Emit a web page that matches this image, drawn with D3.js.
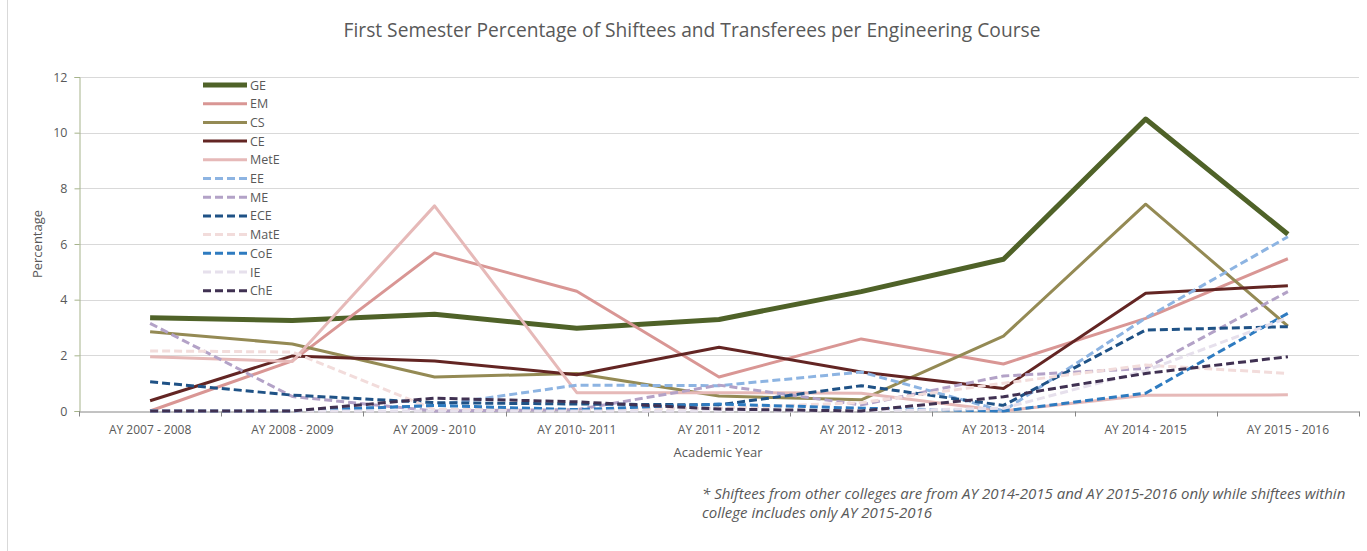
<!DOCTYPE html>
<html>
<head>
    <meta charset="utf-8" />
    <title>Shiftees and Transferees</title>
    <script src="https://cdn.jsdelivr.net/npm/d3@7"></script>
    <style>
        body { margin: 0; background: #fff; }
        text { font-family: "Open Sans", "Liberation Sans", Arial, sans-serif; fill: #595959; }
    </style>
</head>
<body>
    <script>
        var years = ["AY 2007 - 2008", "AY 2008 - 2009", "AY 2009 - 2010", "AY 2010- 2011", "AY 2011 - 2012",
            "AY 2012 - 2013", "AY 2013 - 2014", "AY 2014 - 2015", "AY 2015 - 2016"];
        var yTicks = [0, 2, 4, 6, 8, 10, 12];

        var GE = [3.35, 3.25, 3.48, 2.97, 3.29, 4.29, 5.45, 10.49, 6.35];
        var EM = [0, 1.8, 5.68, 4.3, 1.22, 2.59, 1.69, 3.33, 5.47];
        var CS = [2.85, 2.41, 1.22, 1.35, 0.54, 0.40, 2.69, 7.43, 3.05];
        var CE = [0.37, 1.98, 1.80, 1.30, 2.29, 1.40, 0.81, 4.23, 4.50];
        var MetE = [1.95, 1.78, 7.37, 0.66, 0.66, 0.64, 0, 0.57, 0.58];
        var EE = [0, 0, 0.2, 0.93, 0.91, 1.4, 0, 3.34, 6.26];
        var ME = [3.15, 0.52, 0, 0.05, 0.93, 0.22, 1.26, 1.53, 4.29];
        var ECE = [1.05, 0.57, 0.3, 0.25, 0.22, 0.91, 0.2, 2.91, 3.03];
        var MatE = [2.16, 2.12, 0.05, 0.05, 0.1, 0.3, 1.0, 1.65, 1.35];
        var CoE = [0, 0, 0.2, 0.05, 0.25, 0.1, 0, 0.64, 3.51];
        var IE = [0, 0, 0, 0, 0, 0, 0.1, 1.45, 3.35];
        var ChE = [0, 0, 0.46, 0.33, 0.07, 0, 0.51, 1.35, 1.95];

        var series = [
            { name: "GE", values: GE, color: "#4F6228", width: 5, dash: null },
            { name: "EM", values: EM, color: "#D99694", width: 3, dash: null },
            { name: "CS", values: CS, color: "#948A54", width: 3, dash: null },
            { name: "CE", values: CE, color: "#632523", width: 3, dash: null },
            { name: "MetE", values: MetE, color: "#E6B9B8", width: 3, dash: null },
            { name: "EE", values: EE, color: "#8DB4E2", width: 3, dash: "8,4" },
            { name: "ME", values: ME, color: "#B3A2C7", width: 3, dash: "8,4" },
            { name: "ECE", values: ECE, color: "#1F5286", width: 3, dash: "8,4" },
            { name: "MatE", values: MatE, color: "#F2DCDB", width: 3, dash: "8,4" },
            { name: "CoE", values: CoE, color: "#2E7BC0", width: 3, dash: "8,4" },
            { name: "IE", values: IE, color: "#E6E0EC", width: 3, dash: "8,4" },
            { name: "ChE", values: ChE, color: "#403152", width: 3, dash: "8,4" }
        ];

        var width = 1367, height = 551;
        var plotLeft = 79, plotRight = 1359, plotTop = 77, plotBottom = 411;

        var svg = d3.select("body").append("svg")
            .attr("width", width)
            .attr("height", height);

        // chart frame edge
        svg.append("line").attr("x1", 7.5).attr("x2", 7.5).attr("y1", 0).attr("y2", height)
            .attr("stroke", "#D9D9D9");

        var x = d3.scaleBand().domain(years).range([plotLeft, plotRight]);
        var y = d3.scaleLinear().domain([0, 12]).range([plotBottom, plotTop]);

        // gridlines
        svg.append("g").selectAll("line").data(yTicks.slice(1)).enter().append("line")
            .attr("x1", plotLeft).attr("x2", plotRight)
            .attr("y1", function (d) { return Math.round(y(d)) + 0.5; })
            .attr("y2", function (d) { return Math.round(y(d)) + 0.5; })
            .attr("stroke", "#D9D9D9");

        // y axis
        var yAxis = svg.append("g").attr("transform", "translate(" + (plotLeft + 0.5) + ",0)")
            .call(d3.axisLeft(y).tickValues(yTicks).tickSize(5).tickPadding(7));
        yAxis.select(".domain").attr("stroke", "#A6B38B");
        yAxis.selectAll(".tick line").attr("stroke", "#A6B38B");
        yAxis.selectAll("text").style("font-size", "12.5px").attr("fill", "#595959");

        // x axis
        var xAxis = svg.append("g").attr("transform", "translate(0," + (plotBottom + 0.5) + ")")
            .call(d3.axisBottom(x).tickSize(0).tickPadding(14));
        xAxis.select(".domain").attr("stroke", "#868686");
        xAxis.selectAll("text").style("font-size", "12px").attr("fill", "#595959");
        var bounds = years.map(function (d) { return x(d); }).concat([plotRight]);
        xAxis.selectAll(".bound").data(bounds).enter().append("line")
            .attr("x1", function (d) { return Math.round(d) + 0.5; })
            .attr("x2", function (d) { return Math.round(d) + 0.5; })
            .attr("y1", 0).attr("y2", 5)
            .attr("stroke", "#868686");

        // lines (later series drawn on top, like the original)
        var line = d3.line()
            .x(function (d, i) { return x(years[i]) + x.bandwidth() / 2; })
            .y(function (d) { return y(d); });

        svg.append("g").selectAll("path").data(series).enter().append("path")
            .attr("d", function (d) { return line(d.values); })
            .attr("fill", "none")
            .attr("stroke", function (d) { return d.color; })
            .attr("stroke-width", function (d) { return d.width; })
            .attr("stroke-dasharray", function (d) { return d.dash; })
            .attr("stroke-linejoin", "round");

        // legend
        var legend = svg.selectAll(".legend").data(series).enter().append("g")
            .attr("class", "legend")
            .attr("transform", function (d, i) { return "translate(203," + (85 + i * 18.7) + ")"; });
        legend.append("line")
            .attr("x1", 0).attr("x2", 44)
            .attr("stroke", function (d) { return d.color; })
            .attr("stroke-width", function (d) { return d.width; })
            .attr("stroke-dasharray", function (d) { return d.dash; });
        legend.append("text")
            .attr("x", 47).attr("y", 4.5)
            .style("font-size", "12.5px")
            .text(function (d) { return d.name; });

        // titles
        svg.append("text").attr("x", 692).attr("y", 37).attr("text-anchor", "middle")
            .style("font-size", "19.2px")
            .text("First Semester Percentage of Shiftees and Transferees per Engineering Course");
        svg.append("text").attr("x", 718).attr("y", 457).attr("text-anchor", "middle")
            .style("font-size", "13px")
            .text("Academic Year");
        svg.append("text").attr("transform", "translate(42,244) rotate(-90)").attr("text-anchor", "middle")
            .style("font-size", "13px")
            .text("Percentage");

        // footnote
        var note = svg.append("text").attr("x", 702).attr("y", 499)
            .style("font-size", "15px").style("font-style", "italic").attr("fill", "#404040");
        note.append("tspan").attr("x", 702).attr("dy", 0)
            .text("* Shiftees from other colleges are from AY 2014-2015 and AY 2015-2016 only while shiftees within");
        note.append("tspan").attr("x", 702).attr("dy", 19)
            .text("college includes only AY 2015-2016");
    </script>
</body>
</html>
